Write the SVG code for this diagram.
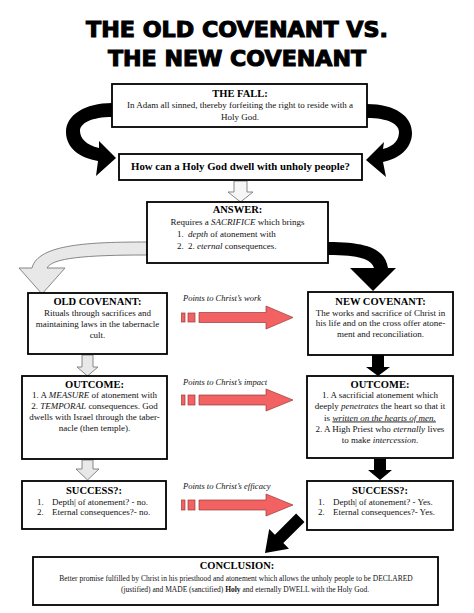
<svg xmlns="http://www.w3.org/2000/svg" width="474" height="613" viewBox="0 0 474 613">
<style>
.box{fill:#fff;stroke:#000;stroke-width:1.8}
.title{font-family:"DejaVu Sans",sans-serif;font-weight:bold;font-size:22px;text-anchor:middle;fill:#000;stroke:#000;stroke-width:1.1;stroke-linejoin:miter}
.h{font-family:"Liberation Serif",serif;font-weight:bold;font-size:10.5px;text-anchor:middle;fill:#000}
.t{font-family:"Liberation Serif",serif;font-size:9px;fill:#111}
.m{text-anchor:middle}
.s{font-size:7.5px}
.lbl{font-family:"Liberation Serif",serif;font-style:italic;font-size:8.5px;fill:#111}
.red{fill:#f26262;stroke:#9a3b3b;stroke-width:0.7}
.gray{fill:#e8e8e8;stroke:#7a7a7a;stroke-width:0.9}
.blk{fill:#000}
</style>
<rect width="474" height="613" fill="#fff"/>
<g id="title">
<text class="title" x="237" y="37" textLength="302" lengthAdjust="spacingAndGlyphs">THE OLD COVENANT VS.</text>
<text class="title" x="237" y="66" textLength="258" lengthAdjust="spacingAndGlyphs">THE NEW COVENANT</text>
</g>
<g id="connectors">
<path class="blk" d="M112,103 C85,103 66,115 66,132 C66,148 80,158 98,161 L96,176 L116,158 L99,141 L99,148 C86,145 80,138 80,131 C80,123 92,117 112,117 Z"/>
<path class="blk" d="M367,104 C395,104 412,116 412,133 C412,149 398,159 383,162 L386,177 L366,160 L384,142 L383,149 C395,146 399,139 399,132 C399,124 388,118 367,118 Z"/>
<path class="gray" style="fill:#f6f6f6" d="M234,181 H247 V192 H253 L240.5,202 L228,192 H234 Z"/>
<path class="gray" d="M147,242 C90,242 38,244 32,268 L19,268 L42,294 L65,268 L47,268 C52,258 85,255 147,255 Z"/>
<path class="blk" d="M328,242 C370,242 385,250 388,268 L396,268 L373,291 L350,268 L374,268 C371,259 360,255 328,255 Z"/>
<path class="gray" d="M82,355 H93 V367 H98 L87.5,376 L77,367 H82 Z"/>
<path class="gray" d="M82,460 H93 V469 H99 L87.5,480 L76,469 H82 Z"/>
<path class="blk" d="M372,355 H384 V367 H390 L378,376 L366,367 H372 Z"/>
<path class="blk" d="M374,459 H386 V470 H392 L380,480 L368,470 H374 Z"/>
<path class="blk" d="M304.5,521.9 L283.3,543.1 L289,548.8 L265,553 L269.2,529 L274.9,534.7 L296.1,513.5 Z"/>
<g id="points-work">
<text class="lbl" x="183" y="301">Points to Christ’s work</text>
<rect class="red" x="181.5" y="313" width="3.5" height="9"/>
<rect class="red" x="188" y="313" width="7" height="9"/>
<path class="red" d="M199,312.5 H266 V306 L293,317.5 L266,329 V322.5 H199 Z"/>
</g>
<g id="points-impact">
<text class="lbl" x="183" y="385">Points to Christ’s impact</text>
<rect class="red" x="181.5" y="395" width="3.5" height="10"/>
<rect class="red" x="188" y="395" width="7" height="10"/>
<path class="red" d="M199,395 H266 V389 L293,400 L266,411 V405 H199 Z"/>
</g>
<g id="points-efficacy">
<text class="lbl" x="183" y="489">Points to Christ’s efficacy</text>
<rect class="red" x="181.5" y="500" width="3.5" height="10"/>
<rect class="red" x="188" y="500" width="7" height="10"/>
<path class="red" d="M199,500 H266 V494 L293,505 L266,516 V510 H199 Z"/>
</g>
</g>
<g id="fall">
<rect class="box" x="112" y="84" width="255" height="43"/>
<text class="h" x="240" y="97">THE FALL:</text>
<text class="t m" x="240" y="108">In Adam all sinned, thereby forfeiting the right to reside with a</text>
<text class="t m" x="240" y="120">Holy God.</text>
</g>
<g id="question">
<rect class="box" x="119" y="154" width="243" height="26"/>
<text class="h" x="240.5" y="170" style="font-size:10.8px">How can a Holy God dwell with unholy people?</text>
</g>
<g id="answer">
<rect class="box" x="147" y="202" width="181" height="61"/>
<text class="h" x="237.5" y="213">ANSWER:</text>
<text class="t m" x="237.5" y="225">Requires a <tspan font-style="italic">SACRIFICE</tspan> which brings</text>
<text class="t" x="177" y="237">1.</text>
<text class="t" x="188" y="237"><tspan font-style="italic">depth</tspan> of atonement with</text>
<text class="t" x="177" y="249">2.</text>
<text class="t" x="188" y="249">2. <tspan font-style="italic">eternal</tspan> consequences.</text>
</g>
<g id="old-covenant">
<rect class="box" x="28" y="293" width="139" height="61"/>
<text class="h" x="97.5" y="305">OLD COVENANT:</text>
<text class="t m" x="97.5" y="316">Rituals through sacrifices and</text>
<text class="t m" x="97.5" y="327">maintaining laws in the tabernacle</text>
<text class="t m" x="97.5" y="338">cult.</text>
</g>
<g id="new-covenant">
<rect class="box" x="308" y="292" width="145" height="63"/>
<text class="h" x="380.5" y="305">NEW COVENANT:</text>
<text class="t m" x="380.5" y="315.5">The works and sacrifice of Christ in</text>
<text class="t m" x="380.5" y="326">his life and on the cross offer atone-</text>
<text class="t m" x="380.5" y="336.5">ment and reconciliation.</text>
</g>
<g id="old-outcome">
<rect class="box" x="22" y="376" width="145" height="83"/>
<text class="h" x="94.5" y="387.5">OUTCOME:</text>
<text class="t m" x="94.5" y="398">1. A <tspan font-style="italic">MEASURE</tspan> of atonement with</text>
<text class="t m" x="94.5" y="409">2. <tspan font-style="italic">TEMPORAL</tspan> consequences. God</text>
<text class="t m" x="94.5" y="420">dwells with Israel through the taber-</text>
<text class="t m" x="94.5" y="431">nacle (then temple).</text>
</g>
<g id="new-outcome">
<rect class="box" x="307" y="376" width="146" height="82"/>
<text class="h" x="380" y="387.5">OUTCOME:</text>
<text class="t m" x="380" y="398">1. A sacrificial atonement which</text>
<text class="t m" x="380" y="409">deeply <tspan font-style="italic">penetrates</tspan> the heart so that it</text>
<text class="t m" x="380" y="420.5">is <tspan font-style="italic" text-decoration="underline">written on the hearts of men.</tspan></text>
<text class="t m" x="380" y="431.5">2. A High Priest who <tspan font-style="italic">eternally</tspan> lives</text>
<text class="t m" x="380" y="442.5">to make <tspan font-style="italic">intercession</tspan>.</text>
</g>
<g id="old-success">
<rect class="box" x="22" y="481" width="144" height="48"/>
<text class="h" x="94" y="493.5">SUCCESS?:</text>
<text class="t" x="37" y="504.5">1.</text>
<text class="t" x="52" y="504.5">Depth| of atonement? - no.</text>
<text class="t" x="37" y="515">2.</text>
<text class="t" x="52" y="515">Eternal consequences?- no.</text>
</g>
<g id="new-success">
<rect class="box" x="307" y="481" width="146" height="49"/>
<text class="h" x="380" y="493.5">SUCCESS?:</text>
<text class="t" x="318" y="504.5">1.</text>
<text class="t" x="333" y="504.5">Depth| of atonement? - Yes.</text>
<text class="t" x="318" y="515">2.</text>
<text class="t" x="333" y="515">Eternal consequences?- Yes.</text>
</g>
<g id="conclusion">
<rect class="box" x="33" y="557" width="405" height="48"/>
<text class="h" x="237" y="569">CONCLUSION:</text>
<text class="t m s" x="236" y="580.5">Better promise fulfilled by Christ in his priesthood and atonement which allows the unholy people to be DECLARED</text>
<text class="t m s" x="245" y="591.5">(justified) and MADE (sanctified) <tspan font-weight="bold">Holy</tspan> and eternally DWELL with the Holy God.</text>
</g>
</svg>
